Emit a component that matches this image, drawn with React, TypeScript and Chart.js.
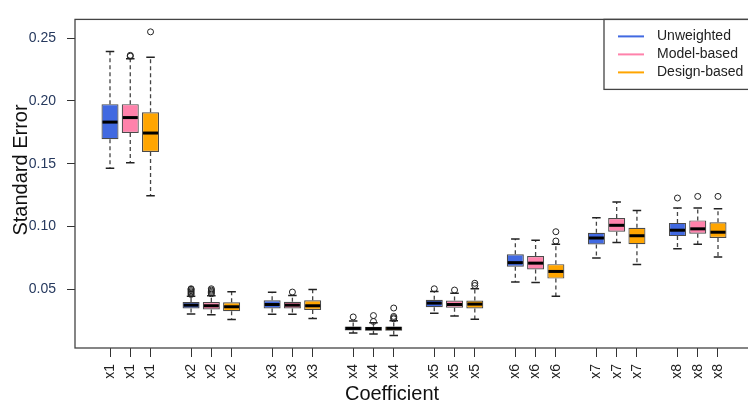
import React, { useEffect, useRef } from "react";
import { Chart, registerables } from "chart.js";

Chart.register(...registerables);

const categories = ["x1", "x2", "x3", "x4", "x5", "x6", "x7", "x8"];
const seriesNames = ["Unweighted", "Model-based", "Design-based"];
const seriesColors = ["#4169E1", "#FF82AB", "#FFA500"];
const yTicks = [0.05, 0.1, 0.15, 0.2, 0.25];

// Unweighted
const unweightedMin = [0.1463, 0.0305, 0.0302, 0.0154, 0.031, 0.056, 0.075, 0.0823];
const unweightedQ1 = [0.1695, 0.0349, 0.0349, 0.0174, 0.0359, 0.068, 0.0857, 0.0924];
const unweightedMedian = [0.1831, 0.0375, 0.038, 0.019, 0.0391, 0.0713, 0.0909, 0.0971];
const unweightedQ3 = [0.1974, 0.04, 0.0414, 0.0206, 0.0417, 0.0779, 0.0951, 0.1029];
const unweightedMax = [0.2393, 0.0445, 0.0477, 0.0248, 0.0484, 0.0901, 0.107, 0.1148];
const unweightedOutliers = [[], [0.046, 0.047, 0.048, 0.049, 0.05, 0.0505], [], [0.0281], [0.0505], [], [], [0.1227]];

// Model-based
const modelMin = [0.1508, 0.0298, 0.0302, 0.0146, 0.0289, 0.0555, 0.0873, 0.0859];
const modelQ1 = [0.1744, 0.0341, 0.0349, 0.0172, 0.0354, 0.0659, 0.0959, 0.0943];
const modelMedian = [0.1867, 0.037, 0.0375, 0.0188, 0.038, 0.0709, 0.101, 0.0982];
const modelQ3 = [0.1974, 0.0399, 0.0401, 0.0203, 0.0412, 0.0766, 0.1068, 0.1049];
const modelMax = [0.2335, 0.045, 0.0451, 0.0235, 0.0469, 0.0891, 0.1195, 0.1148];
const modelOutliers = [[0.2355, 0.2362], [0.0465, 0.0475, 0.0485, 0.0495, 0.0505], [0.0479], [0.0245, 0.0292], [0.0495], [], [], [0.124]];

// Design-based
const designMin = [0.1245, 0.026, 0.0268, 0.0133, 0.0263, 0.0445, 0.0698, 0.0758];
const designQ1 = [0.1594, 0.0326, 0.0336, 0.0172, 0.0349, 0.0586, 0.0859, 0.0909];
const designMedian = [0.1744, 0.0362, 0.037, 0.019, 0.0383, 0.0643, 0.0927, 0.0955];
const designQ3 = [0.1909, 0.0398, 0.0414, 0.0206, 0.0412, 0.0701, 0.099, 0.1034];
const designMax = [0.2346, 0.0482, 0.05, 0.025, 0.0505, 0.0859, 0.1127, 0.1141];
const designOutliers = [[0.2549], [], [], [0.0266, 0.0275, 0.0285, 0.0352], [0.0531, 0.0549], [0.0885, 0.0959], [], [0.124]];

const seriesStats = [
  { min: unweightedMin, q1: unweightedQ1, med: unweightedMedian, q3: unweightedQ3, max: unweightedMax, out: unweightedOutliers },
  { min: modelMin, q1: modelQ1, med: modelMedian, q3: modelQ3, max: modelMax, out: modelOutliers },
  { min: designMin, q1: designQ1, med: designMedian, q3: designQ3, max: designMax, out: designOutliers },
];

const pos = (g: number, s: number) => 1 + 4 * g + s;
const tickPositions: number[] = [];
categories.forEach((_, g) => seriesNames.forEach((__, s) => tickPositions.push(pos(g, s))));

const FONT = "'Liberation Sans', Arial, sans-serif";

const boxExtras = {
  id: "boxExtras",
  afterDatasetsDraw(chart: any) {
    const ctx = chart.ctx;
    const ys = chart.scales.y;
    ctx.save();
    seriesStats.forEach((st, s) => {
      const meta = chart.getDatasetMeta(s);
      meta.data.forEach((el: any, g: number) => {
        const x = el.x;
        const half = el.width / 2;
        const capHalf = half / 2;
        const yMin = ys.getPixelForValue(st.min[g]);
        const yQ1 = ys.getPixelForValue(st.q1[g]);
        const yQ3 = ys.getPixelForValue(st.q3[g]);
        const yMax = ys.getPixelForValue(st.max[g]);
        const yMed = ys.getPixelForValue(st.med[g]);
        ctx.strokeStyle = "#444";
        ctx.lineWidth = 1.3;
        ctx.setLineDash([4, 3]);
        ctx.beginPath();
        ctx.moveTo(x, yQ3);
        ctx.lineTo(x, yMax);
        ctx.moveTo(x, yQ1);
        ctx.lineTo(x, yMin);
        ctx.stroke();
        ctx.setLineDash([]);
        ctx.strokeStyle = "#222";
        ctx.lineWidth = 1.5;
        ctx.beginPath();
        ctx.moveTo(x - capHalf, yMax);
        ctx.lineTo(x + capHalf, yMax);
        ctx.moveTo(x - capHalf, yMin);
        ctx.lineTo(x + capHalf, yMin);
        ctx.stroke();
        ctx.strokeStyle = "#000";
        ctx.lineWidth = 3;
        ctx.beginPath();
        ctx.moveTo(x - half + 1, yMed);
        ctx.lineTo(x + half - 1, yMed);
        ctx.stroke();
      });
    });
    ctx.restore();
  },
  afterDraw(chart: any) {
    const ctx = chart.ctx;
    const { left, top, right, bottom } = chart.chartArea;
    ctx.save();
    ctx.strokeStyle = "#444";
    ctx.lineWidth = 1.3;
    ctx.strokeRect(left, top, right - left, bottom - top);
    const lw = 149;
    const lx = right - lw;
    const lh = 70;
    ctx.strokeRect(lx, top, lw, lh);
    ctx.font = `14px ${FONT}`;
    ctx.textBaseline = "middle";
    ctx.textAlign = "left";
    seriesNames.forEach((name, i) => {
      const y = top + 17 + i * 18;
      ctx.strokeStyle = seriesColors[i];
      ctx.lineWidth = 2;
      ctx.beginPath();
      ctx.moveTo(lx + 14, y);
      ctx.lineTo(lx + 40, y);
      ctx.stroke();
      ctx.fillStyle = "#222";
      ctx.fillText(name, lx + 53, y);
    });
    ctx.fillStyle = "#111";
    ctx.font = `20px ${FONT}`;
    ctx.textAlign = "center";
    ctx.fillText("Coefficient", 392, 394);
    ctx.translate(21, 170);
    ctx.rotate(-Math.PI / 2);
    ctx.fillText("Standard Error", 0, 0);
    ctx.restore();
  },
};

export default function App() {
  const ref = useRef<HTMLCanvasElement | null>(null);
  useEffect(() => {
    document.body.style.margin = "0";
    if (!ref.current) return;
    const boxSets = seriesStats.map((st, s) => ({
      type: "bar" as const,
      label: seriesNames[s],
      data: categories.map((_, g) => ({ x: pos(g, s), y: [st.q1[g], st.q3[g]] })),
      backgroundColor: seriesColors[s],
      borderColor: "#4a4a4a",
      borderWidth: 1.2,
      borderSkipped: false,
      grouped: false,
      categoryPercentage: 1,
      barPercentage: 0.84,
      order: 2,
    }));
    const outlierSets = seriesStats.map((st, s) => {
      const pts: { x: number; y: number }[] = [];
      st.out.forEach((vals, g) => vals.forEach((v) => pts.push({ x: pos(g, s), y: v })));
      return {
        type: "scatter" as const,
        label: seriesNames[s] + " outliers",
        data: pts,
        pointRadius: 3,
        pointBackgroundColor: "rgba(255,255,255,0)",
        pointBorderColor: "#222",
        pointBorderWidth: 1,
        order: 1,
      };
    });
    const chart = new Chart(ref.current, {
      type: "bar",
      data: { datasets: [...boxSets, ...outlierSets] as any },
      options: {
        animation: false,
        responsive: false,
        events: [],
        layout: { padding: { left: 0, top: 13, right: 7, bottom: 0 } },
        plugins: { legend: { display: false }, tooltip: { enabled: false } },
        scales: {
          x: {
            type: "linear",
            offset: false,
            min: -0.727,
            max: 32.727,
            afterBuildTicks: (scale: any) => {
              scale.ticks = tickPositions.map((value) => ({ value }));
            },
            afterFit: (scale: any) => {
              scale.height = 55;
            },
            grid: { display: true, offset: false, drawOnChartArea: false, drawTicks: true, tickLength: 9, color: "#333", lineWidth: 1 },
            border: { display: false },
            ticks: {
              autoSkip: false,
              maxRotation: 90,
              minRotation: 90,
              padding: 7,
              color: "#222",
              font: { family: FONT, size: 14 },
              callback: (value: any) => categories[Math.floor((Number(value) - 1) / 4)] ?? "",
            },
          },
          y: {
            type: "linear",
            min: 0.0034,
            max: 0.2648,
            afterBuildTicks: (scale: any) => {
              scale.ticks = yTicks.map((value) => ({ value }));
            },
            afterFit: (scale: any) => {
              scale.width = 75;
            },
            grid: { display: true, drawOnChartArea: false, drawTicks: true, tickLength: 8, color: "#333", lineWidth: 1 },
            border: { display: false },
            ticks: {
              padding: 11,
              color: "#26395e",
              font: { family: FONT, size: 14 },
              callback: (value: any) => Number(value).toFixed(2),
            },
          },
        },
      } as any,
      plugins: [boxExtras],
    });
    return () => chart.destroy();
  }, []);
  return (
    <div style={{ width: 748, height: 403, overflow: "hidden", background: "#fff" }}>
      <canvas ref={ref} width={760} height={403} style={{ display: "block" }} />
    </div>
  );
}
